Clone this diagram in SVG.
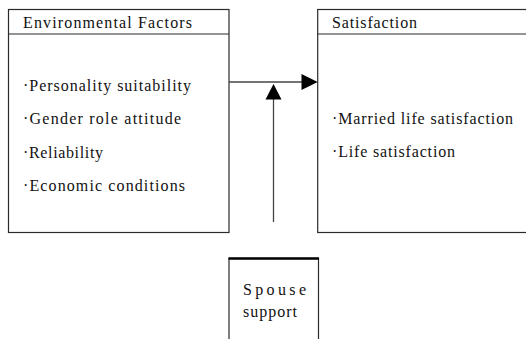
<svg xmlns="http://www.w3.org/2000/svg" width="526" height="339" viewBox="0 0 526 339">
<style>
.box{fill:#fff;stroke:#2a2a2a;stroke-width:1.2}
.hdr{stroke:#2a2a2a;stroke-width:1.2}
.t{font-family:"Liberation Serif","Times New Roman",serif;font-size:16px;fill:#111}
.conn{stroke:#444;stroke-width:1.3;fill:none}
.head{fill:#000}
</style>
<rect width="526" height="339" fill="#fff"/>
<g id="environmental-factors">
<rect class="box" x="8.5" y="9.5" width="220.5" height="223"/>
<line class="hdr" x1="8.5" y1="34" x2="229" y2="34"/>
<text class="t" x="23" y="28" textLength="169" lengthAdjust="spacing">Environmental Factors</text>
<text class="t" x="23" y="91" textLength="168" lengthAdjust="spacing">·Personality suitability</text>
<text class="t" x="23" y="124" textLength="158" lengthAdjust="spacing">·Gender role attitude</text>
<text class="t" x="23" y="158" textLength="80" lengthAdjust="spacing">·Reliability</text>
<text class="t" x="23" y="191" textLength="162" lengthAdjust="spacing">·Economic conditions</text>
</g>
<g id="satisfaction">
<rect class="box" x="317.7" y="9.5" width="215" height="223"/>
<line class="hdr" x1="317.7" y1="34" x2="530" y2="34"/>
<text class="t" x="332" y="28" textLength="85" lengthAdjust="spacing">Satisfaction</text>
<text class="t" x="332" y="124" textLength="181" lengthAdjust="spacing">·Married life  satisfaction</text>
<text class="t" x="332" y="157" textLength="123" lengthAdjust="spacing">·Life  satisfaction</text>
</g>
<g id="spouse-support">
<rect class="box" x="229" y="258.5" width="89.5" height="82"/>
<line x1="228.5" y1="258.5" x2="319" y2="258.5" stroke="#000" stroke-width="2.5"/>
<text class="t" x="243" y="295" textLength="63" lengthAdjust="spacing">Spouse</text>
<text class="t" x="243" y="317" textLength="54" lengthAdjust="spacing">support</text>
</g>
<g id="connectors">
<line class="conn" x1="229" y1="82" x2="302" y2="82"/>
<polygon class="head" points="301.5,74 317.7,82 301.5,90"/>
<line class="conn" x1="273.5" y1="222" x2="273.5" y2="99"/>
<polygon class="head" points="265.5,99.5 273.5,84 281.5,99.5"/>
</g>
</svg>
